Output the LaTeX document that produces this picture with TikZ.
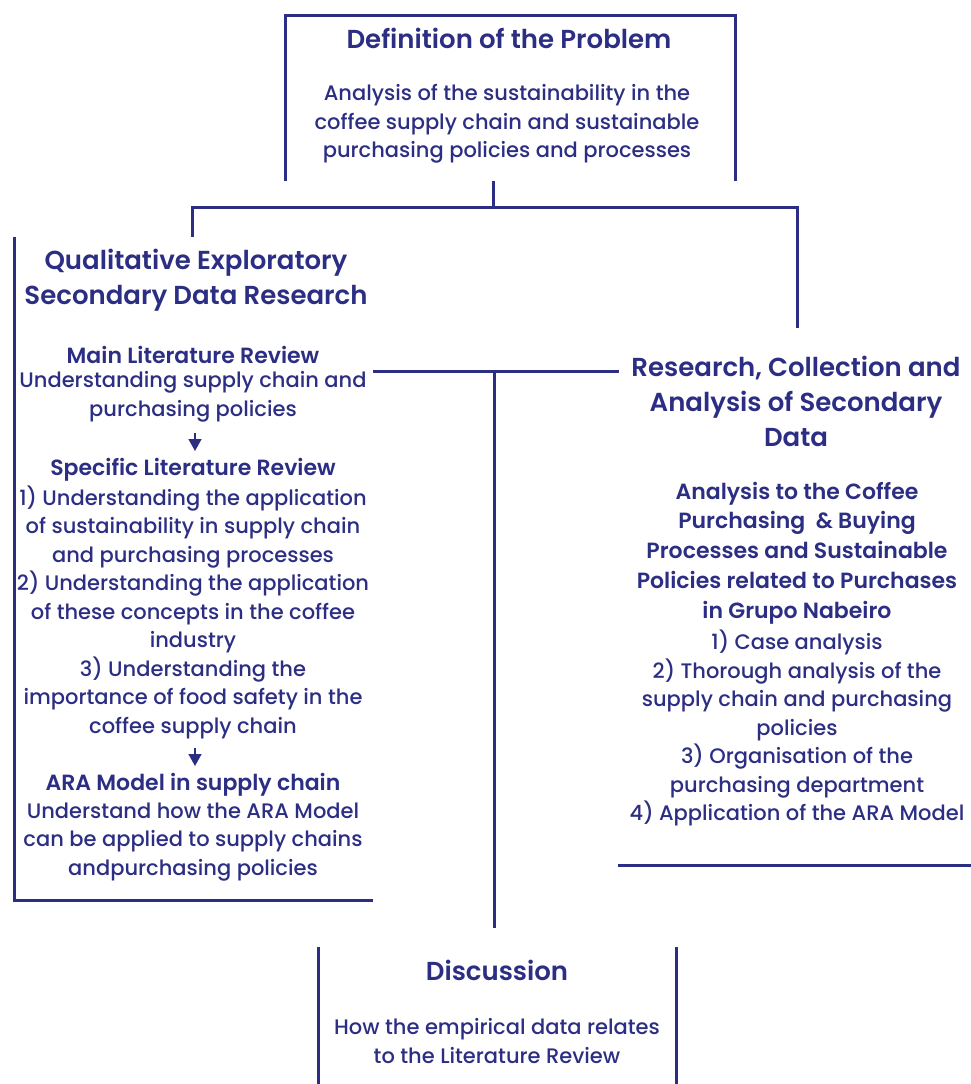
\documentclass[tikz,border=0pt]{standalone}
\usepackage{fontspec}
\setmainfont{Poppins}[UprightFont=* Medium,BoldFont=* SemiBold]
\usetikzlibrary{arrows.meta}
\definecolor{navy}{RGB}{44,46,131}
\begin{document}
\begin{tikzpicture}[x=1pt,y=-1pt,
  line/.style={draw=navy,line width=3pt},
  bighead/.style={text=navy,align=center,inner sep=0pt,font=\bfseries\fontsize{26}{35}\selectfont},
  subhead/.style={text=navy,align=center,inner sep=0pt,font=\bfseries\fontsize{22}{29.8}\selectfont},
  body/.style={text=navy,align=center,inner sep=0pt,font=\fontsize{21}{28.5}\selectfont},
  downarrow/.style={draw=navy,line width=1.5pt,-{Triangle[width=13pt,length=12pt]}}]
\useasboundingbox (0,0) rectangle (971,1084);
% ---------- top box ----------
\node[bighead] (defh) at (509,38) {Definition of the Problem};
\node[body] (defb) at (507,124) {Analysis of the sustainability in the\\coffee supply chain and sustainable\\purchasing policies and processes};
\coordinate (tl) at (285,181); \coordinate (tr) at (735,181);
\draw[line] (tl) -- (285,15) -- (735,15) -- (tr);
% ---------- connectors from top ----------
\coordinate (tb) at (493,181); \coordinate (tj) at (493,207);
\coordinate (lj) at (192,207); \coordinate (lt) at (192,237);
\coordinate (rj) at (797,207); \coordinate (rt) at (797,328);
\draw[line] (tb) -- (tj);
\draw[line] (lt) -- (lj) -- (rj) -- (rt);
% ---------- left column ----------
\node[bighead] (qh) at (196,280) {Qualitative Exploratory\\Secondary Data Research};
\node[subhead] (mlrh) at (193,355) {Main Literature Review};
\node[body] (mlrb) at (193,397) {Understanding supply chain and\\purchasing policies};
\coordinate (a1s) at (195,433); \coordinate (a1e) at (195,451);
\draw[downarrow] (a1s) -- (a1e);
\node[subhead] (slrh) at (193,470) {Specific Literature Review};
\node[body] (slrb) at (193,612) {1) Understanding the application\\of sustainability in supply chain\\and purchasing processes\\2) Understanding the application\\of these concepts in the coffee\\industry\\3) Understanding the\\importance of food safety in the\\coffee supply chain};
\coordinate (a2s) at (195,748); \coordinate (a2e) at (195,766);
\draw[downarrow] (a2s) -- (a2e);
\node[subhead] (arah) at (193,785) {ARA Model in supply chain};
\node[body] (arab) at (193,842) {Understand how the ARA Model\\can be applied to supply chains\\andpurchasing policies};
\coordinate (lbt) at (14,237); \coordinate (lbb) at (14,900); \coordinate (lbr) at (373,900);
\draw[line] (lbt) -- (lbb) -- (lbr);
% ---------- middle connector ----------
\coordinate (ml) at (373,371); \coordinate (mr) at (619,371);
\coordinate (mj) at (494,371); \coordinate (md) at (494,928);
\draw[line] (ml) -- (mr);
\draw[line] (mj) -- (md);
% ---------- right column ----------
\node[bighead] (rh) at (796,401) {Research, Collection and\\Analysis of Secondary\\Data};
\node[subhead] (rsb) at (797,553) {Analysis to the Coffee\\Purchasing~ \& Buying\\Processes and Sustainable\\Policies related to Purchases\\in Grupo Nabeiro};
\node[body] (rlist) at (797,728) {1) Case analysis\\2) Thorough analysis of the\\supply chain and purchasing\\policies\\3) Organisation of the\\purchasing department\\4) Application of the ARA Model};
\coordinate (rbl) at (618,865); \coordinate (rbr) at (971,865);
\draw[line] (rbl) -- (rbr);
% ---------- bottom box ----------
\node[bighead] (dh) at (497,970) {Discussion};
\node[body] (db) at (497,1041) {How the empirical data relates\\to the Literature Review};
\coordinate (bl) at (318,947); \coordinate (br) at (676,947);
\draw[line] (bl) -- (318,1084);
\draw[line] (br) -- (676,1084);
\end{tikzpicture}
\end{document}
